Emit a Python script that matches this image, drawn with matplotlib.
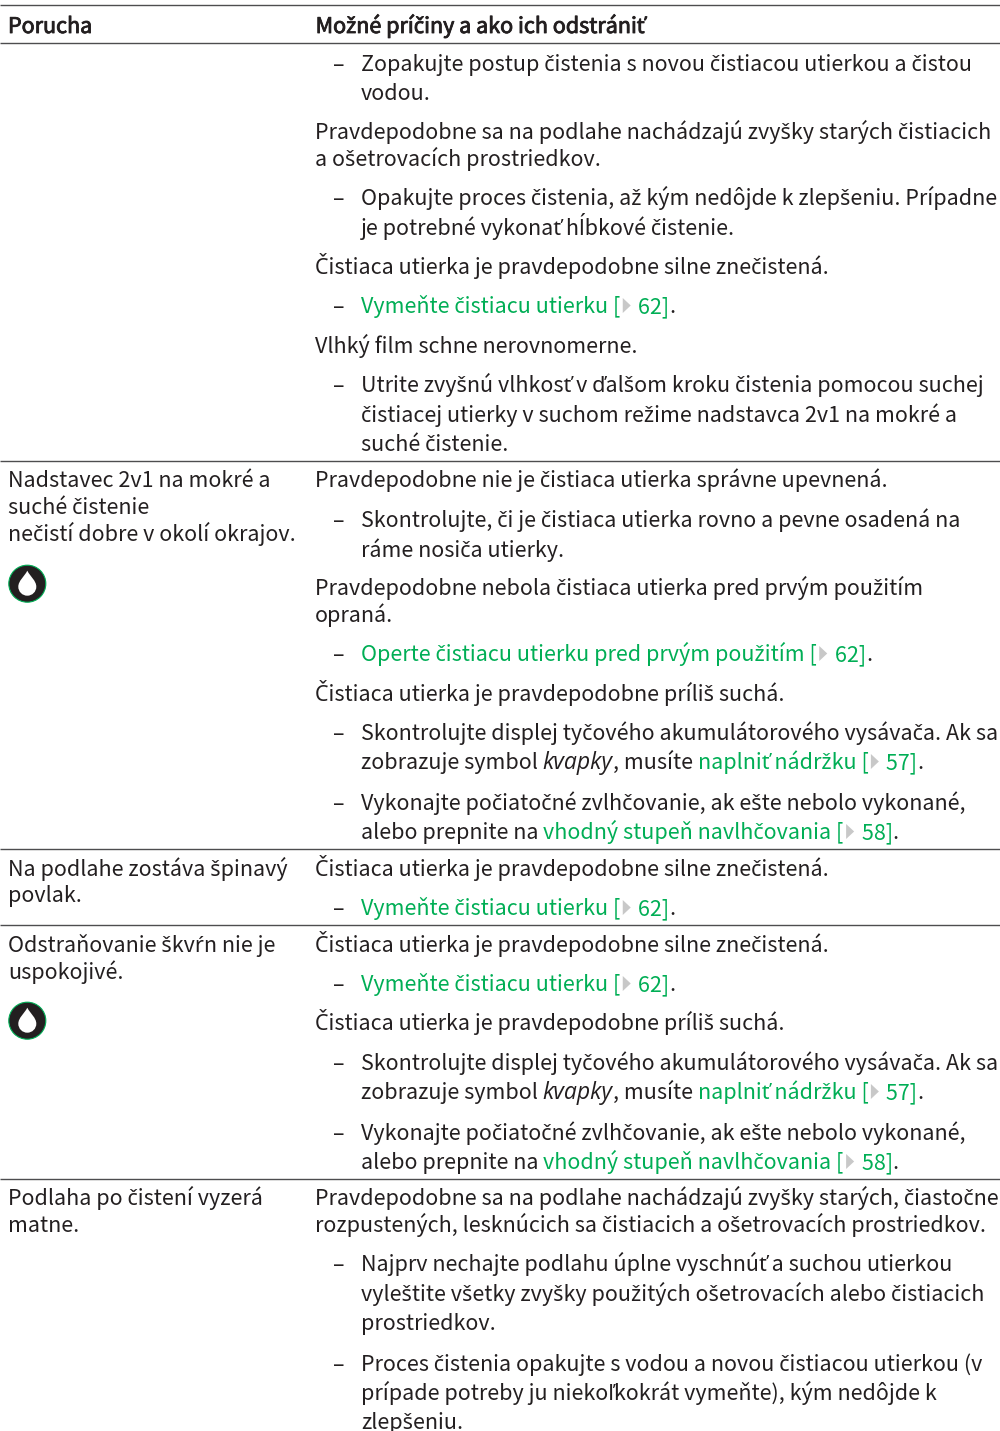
import matplotlib
matplotlib.use('Agg')
import matplotlib.pyplot as plt
import matplotlib.patheffects as pe
from matplotlib.patches import Polygon, Circle, PathPatch
from matplotlib.path import Path

plt.rcParams['font.family'] = ['Noto Sans CJK SC', 'Noto Sans', 'DejaVu Sans']

W, H = 1000, 1431
FS = 15.5
FS_ITALIC = 16.6
TEXT = '#231f20'
GREEN = '#00ae55'
GREY = '#c8c8c8'

X_LEFT = 8
X_RIGHT = 315
X_DASH = 333
X_INDENT = 361

headers = [(X_LEFT, 'Porucha'), (X_RIGHT + 0.6, 'Možné príčiny a ako ich odstrániť')]
rules = [5, 43, 461, 849, 925, 1179]
icons = [(27.3, 583.7), (27.3, 1020.7)]

left_lines = [
    (487, 'Nadstavec 2v1 na mokré a'),
    (514, 'suché čistenie'),
    (541, 'nečistí dobre v okolí okrajov.'),
    (876, 'Na podlahe zostáva špinavý'),
    (902, 'povlak.'),
    (952, 'Odstraňovanie škvŕn nie je'),
    (979, 'uspokojivé.'),
    (1205, 'Podlaha po čistení vyzerá'),
    (1232, 'matne.'),
]

# y baseline, bullet?, segments (kind, text): n normal, g link, i italic, t triangle
right_lines = [
    (71, True, [('n', 'Zopakujte postup čistenia s novou čistiacou utierkou a čistou')]),
    (100, False, [('n', 'vodou.')]),
    (139, None, [('n', 'Pravdepodobne sa na podlahe nachádzajú zvyšky starých čistiacich')]),
    (166, None, [('n', 'a ošetrovacích prostriedkov.')]),
    (205, True, [('n', 'Opakujte proces čistenia, až kým nedôjde k zlepšeniu. Prípadne')]),
    (235, False, [('n', 'je potrebné vykonať hĺbkové čistenie.')]),
    (274, None, [('n', 'Čistiaca utierka je pravdepodobne silne znečistená.')]),
    (313, True, [('g', 'Vymeňte čistiacu utierku ['), ('t', ''), ('g', ' 62]'), ('n', '.')]),
    (353, None, [('n', 'Vlhký film schne nerovnomerne.')]),
    (392, True, [('n', 'Utrite zvyšnú vlhkosť v ďalšom kroku čistenia pomocou suchej')]),
    (422, False, [('n', 'čistiacej utierky v suchom režime nadstavca 2v1 na mokré a')]),
    (451, False, [('n', 'suché čistenie.')]),
    (487, None, [('n', 'Pravdepodobne nie je čistiaca utierka správne upevnená.')]),
    (527, True, [('n', 'Skontrolujte, či je čistiaca utierka rovno a pevne osadená na')]),
    (557, False, [('n', 'ráme nosiča utierky.')]),
    (595, None, [('n', 'Pravdepodobne nebola čistiaca utierka pred prvým použitím')]),
    (622, None, [('n', 'opraná.')]),
    (661, True, [('g', 'Operte čistiacu utierku pred prvým použitím ['), ('t', ''), ('g', ' 62]'), ('n', '.')]),
    (701, None, [('n', 'Čistiaca utierka je pravdepodobne príliš suchá.')]),
    (740, True, [('n', 'Skontrolujte displej tyčového akumulátorového vysávača. Ak sa')]),
    (769, False, [('n', 'zobrazuje symbol '), ('i', 'kvapky'), ('n', ', musíte '), ('g', 'naplniť nádržku ['), ('t', ''), ('g', ' 57]'), ('n', '.')]),
    (810, True, [('n', 'Vykonajte počiatočné zvlhčovanie, ak ešte nebolo vykonané,')]),
    (839, False, [('n', 'alebo prepnite na '), ('g', 'vhodný stupeň navlhčovania ['), ('t', ''), ('g', ' 58]'), ('n', '.')]),
    (876, None, [('n', 'Čistiaca utierka je pravdepodobne silne znečistená.')]),
    (915, True, [('g', 'Vymeňte čistiacu utierku ['), ('t', ''), ('g', ' 62]'), ('n', '.')]),
    (952, None, [('n', 'Čistiaca utierka je pravdepodobne silne znečistená.')]),
    (991, True, [('g', 'Vymeňte čistiacu utierku ['), ('t', ''), ('g', ' 62]'), ('n', '.')]),
    (1030, None, [('n', 'Čistiaca utierka je pravdepodobne príliš suchá.')]),
    (1070, True, [('n', 'Skontrolujte displej tyčového akumulátorového vysávača. Ak sa')]),
    (1099, False, [('n', 'zobrazuje symbol '), ('i', 'kvapky'), ('n', ', musíte '), ('g', 'naplniť nádržku ['), ('t', ''), ('g', ' 57]'), ('n', '.')]),
    (1140, True, [('n', 'Vykonajte počiatočné zvlhčovanie, ak ešte nebolo vykonané,')]),
    (1169, False, [('n', 'alebo prepnite na '), ('g', 'vhodný stupeň navlhčovania ['), ('t', ''), ('g', ' 58]'), ('n', '.')]),
    (1205, None, [('n', 'Pravdepodobne sa na podlahe nachádzajú zvyšky starých, čiastočne')]),
    (1232, None, [('n', 'rozpustených, lesknúcich sa čistiacich a ošetrovacích prostriedkov.')]),
    (1271, True, [('n', 'Najprv nechajte podlahu úplne vyschnúť a suchou utierkou')]),
    (1301, False, [('n', 'vyleštite všetky zvyšky použitých ošetrovacích alebo čistiacich')]),
    (1330, False, [('n', 'prostriedkov.')]),
    (1371, True, [('n', 'Proces čistenia opakujte s vodou a novou čistiacou utierkou (v')]),
    (1400, False, [('n', 'prípade potreby ju niekoľkokrát vymeňte), kým nedôjde k')]),
    (1429, False, [('n', 'zlepšeniu.')]),
]

fig = plt.figure(figsize=(W / 100, H / 100), dpi=100)
ax = fig.add_axes([0, 0, 1, 1])
ax.set_xlim(0, W)
ax.set_ylim(H, 0)
ax.axis('off')
renderer = fig.canvas.get_renderer()


def draw_segments(y, x, segments):
    for kind, s in segments:
        if kind == 't':
            ax.add_patch(Polygon([(x + 2.5, y - 15), (x + 10.5, y - 7.5), (x + 2.5, y)], closed=True, fc=GREY, ec='none'))
            x += 13
            continue
        color = GREEN if kind == 'g' else TEXT
        if kind == 'i':
            t = ax.text(x, y, s, color=color, fontsize=FS_ITALIC, family='Open Sans', style='italic', va='baseline')
        else:
            t = ax.text(x, y, s, color=color, fontsize=FS, va='baseline')
        # trailing spaces are not measured well, so measure with a marker
        probe = ax.text(0, 0, s + '|', fontsize=t.get_fontsize(), family=t.get_fontfamily(), style=t.get_style())
        bar = ax.text(0, 0, '|', fontsize=t.get_fontsize(), family=t.get_fontfamily(), style=t.get_style())
        x += probe.get_window_extent(renderer).width - bar.get_window_extent(renderer).width
        probe.remove()
        bar.remove()


def draw_icon(cx, cy):
    ax.add_patch(Circle((cx, cy), 18.5, fc=TEXT, ec=GREEN, lw=0.8))
    verts = [(cx, cy - 13), (cx - 3, cy - 7), (cx - 9, cy - 3), (cx - 9, cy + 3),
             (cx - 9, cy + 8), (cx - 5, cy + 12), (cx, cy + 12),
             (cx + 5, cy + 12), (cx + 9, cy + 8), (cx + 9, cy + 3),
             (cx + 9, cy - 3), (cx + 3, cy - 7), (cx, cy - 13)]
    codes = [Path.MOVETO] + [Path.CURVE4] * 12
    ax.add_patch(PathPatch(Path(verts, codes), fc='white', ec='none'))


for y in rules:
    ax.plot([0, W], [y, y], color='#4d4d4f', lw=1.0, solid_capstyle='butt')

for x, s in headers:
    ax.text(x, 33, s, color=TEXT, fontsize=FS, va='baseline',
            path_effects=[pe.withStroke(linewidth=0.6, foreground=TEXT)])

for y, s in left_lines:
    ax.text(X_LEFT, y, s, color=TEXT, fontsize=FS, va='baseline')

for y, bullet, segments in right_lines:
    if bullet is None:
        draw_segments(y, X_RIGHT, segments)
    else:
        if bullet:
            ax.text(X_DASH, y, '–', color=TEXT, fontsize=FS, va='baseline')
        draw_segments(y, X_INDENT, segments)

for cx, cy in icons:
    draw_icon(cx, cy)

fig.savefig('out.png', dpi=100)
